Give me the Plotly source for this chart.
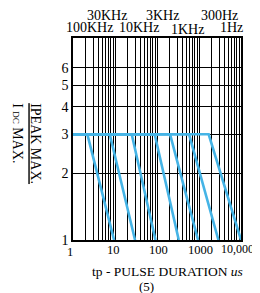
import math
import plotly.graph_objects as go

# ---- data ----
knee_us = [2.2, 7.5, 25, 88, 205, 580, 1700]      # pulse width where derating starts (ratio = 3)
end_us = [9.5, 30, 92, 330, 950, 2900, 10000]      # pulse width where ratio falls to 1
ratio_flat = 3
ratio_end = 1
x_first = 1
x_tick_vals = [1, 10, 100, 1000, 10000]
x_tick_text = ["1", "10", "100", "1000", "10,000"]
y_tick_vals = [1, 2, 3, 4, 5, 6]
y_tick_text = ["1", "2", "3", "4", "5", "6"]
freq_top = ["30KHz", "3KHz", "300Hz"]
freq_bottom = ["100KHz", "10KHz", "1KHz", "1Hz"]
x_title = "tp - PULSE DURATION <i>us</i>"
note = "(5)"

FONT = "Liberation Serif"
BLUE = "#45b4e6"

fig = go.Figure()
for k, e in zip(knee_us, end_us):
    fig.add_trace(go.Scatter(
        x=[x_first, k, e], y=[ratio_flat, ratio_flat, ratio_end],
        mode="lines", line=dict(color=BLUE, width=2.6),
        hoverinfo="skip", showlegend=False))

minor_x = [m * 10 ** d for d in range(4) for m in range(2, 10)]

fig.update_xaxes(
    type="log", range=[0, 4], automargin=False,
    tickvals=x_tick_vals, showticklabels=False, ticks="",
    showgrid=True, gridcolor="black", gridwidth=1,
    minor=dict(tickvals=minor_x, showgrid=True, gridcolor="black", gridwidth=1, ticks=""),
    showline=True, mirror=True, linecolor="black", linewidth=1.5,
    zeroline=False,
)
fig.update_yaxes(
    type="log", range=[0, 0.912], automargin=False,
    tickvals=y_tick_vals, ticktext=y_tick_text, ticks="",
    showgrid=True, gridcolor="black", gridwidth=1,
    showline=True, mirror=True, linecolor="black", linewidth=1.5,
    zeroline=False,
    tickfont=dict(family=FONT, size=14, color="black"),
)

ann = []
# x tick labels (placed at their axis values, nudged like the reference)
x_label_shift = [-3.5, -1.5, 1, 1, -3.5]
x_label_drop = [-11.5, -10, -10, -10, -8.5]
for v, t, dx, dy in zip(x_tick_vals, x_tick_text, x_label_shift, x_label_drop):
    ann.append(dict(text=t, x=math.log10(v), y=0, xref="x", yref="paper",
                    xshift=dx, yshift=dy,
                    showarrow=False, xanchor="center", yanchor="middle",
                    font=dict(family=FONT, size=12.5 if v < 10000 else 12, color="black")))
top_pos = [0.202, 0.535, 0.870]
for t, xp in zip(freq_top, top_pos):
    ann.append(dict(text=t, x=xp, y=1.111, xref="paper", yref="paper",
                    showarrow=False, xanchor="center", yanchor="middle",
                    font=dict(family=FONT, size=14, color="black")))
bot_pos = [(0.096, 1.052), (0.390, 1.052), (0.679, 1.040), (0.946, 1.052)]
for t, (xp, yp) in zip(freq_bottom, bot_pos):
    ann.append(dict(text=t, x=xp, y=yp, xref="paper", yref="paper",
                    showarrow=False, xanchor="center", yanchor="middle",
                    font=dict(family=FONT, size=14, color="black")))
ann.append(dict(text=x_title, x=0.561, y=-0.158, xref="paper", yref="paper",
                showarrow=False, xanchor="center", yanchor="middle",
                font=dict(family=FONT, size=13.5, color="black")))
ann.append(dict(text=note, x=0.436, y=-0.232, xref="paper", yref="paper",
                showarrow=False, xanchor="center", yanchor="middle",
                font=dict(family=FONT, size=13, color="black")))
ann.append(dict(text="<u>IPEAK MAX.</u><br>I <span style='font-size:9px'>DC</span> MAX.",
                x=-0.278, y=0.478, xref="paper", yref="paper", textangle=90,
                align="left", showarrow=False, xanchor="center", yanchor="middle",
                font=dict(family=FONT, size=14, color="black")))

# page body adds an 8px offset, so the figure is sized/margined to fit the window
fig.update_layout(
    width=252, height=285,
    margin=dict(l=65, r=19, t=30, b=53, autoexpand=False),
    paper_bgcolor="white", plot_bgcolor="white",
    annotations=ann, showlegend=False,
)

fig.write_html("out.html")
